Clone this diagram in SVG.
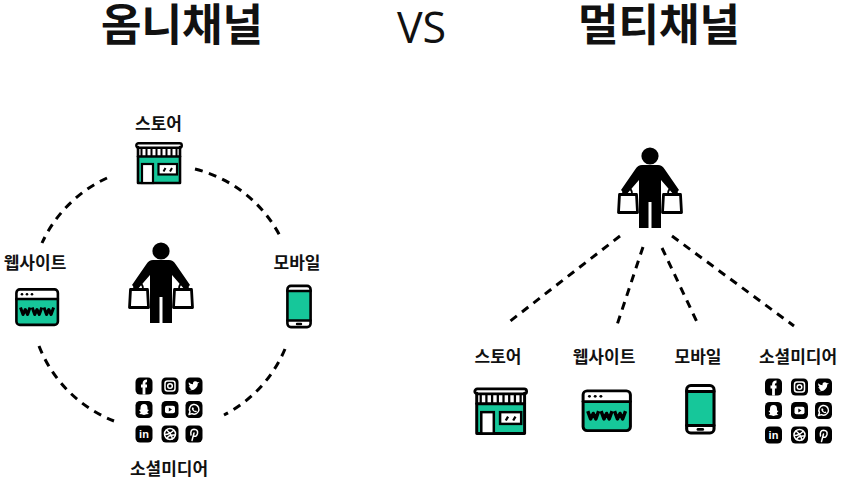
<svg xmlns="http://www.w3.org/2000/svg" width="842" height="483" viewBox="0 0 842 483">
<style>
.t{font-family:"Noto Sans CJK KR","Noto Sans",sans-serif;font-weight:700;fill:#111;text-anchor:middle}
.title{font-size:44px}
.lb{font-size:17px}
.vs{font-family:"Open Sans","Liberation Sans",sans-serif;font-size:43px;font-weight:500;fill:#111;text-anchor:middle}
.dash{fill:none;stroke:#000;stroke-width:3;stroke-dasharray:8 6.5}
.k{fill:none;stroke:#000;stroke-width:2.6;stroke-linejoin:round;stroke-linecap:round}
.s{fill:none;stroke:#000;stroke-width:2}
.g{fill:#16c79a}
.w{fill:#fff}
.ic{fill:#000}
.wl{fill:none;stroke:#fff;stroke-width:1.5;stroke-linecap:round;stroke-linejoin:round}
.wf{fill:#fff}
.in{font-family:"Liberation Sans",sans-serif;font-weight:700;font-size:11px;fill:#fff;text-anchor:middle}
</style>
<defs>
<symbol id="person" overflow="visible">
<circle cx="0" cy="0" r="8.6" fill="#000"/>
<path fill="#000" d="M-8,9 H8 Q12,9 14.500,13 L29,34 L24,39 L11,24 V72 H1.500 V46 H-1.500 V72 H-11 V24 L-24,39 L-29,34 L-14.500,13 Q-12,9 -8,9 Z"/>
<path fill="#fff" stroke="#000" stroke-width="2.800" stroke-linejoin="round" d="M-30.500,38.500 H-13.500 L-12.500,56.500 H-31.500 Z M13.500,38.500 H30.500 L31.500,56.500 H12.500 Z"/>
<path fill="none" stroke="#000" stroke-width="1.800" d="M-27,38 Q-27,32 -23,32 Q-18,32 -18,38 M18,38 Q18,32 23,32 Q27,32 27,38"/>
</symbol>
<symbol id="store" overflow="visible">
<rect x="3" y="5" width="42" height="36" class="g"/>
<path class="w" d="M3,5 H45 V13 Q45,15 43,15 H5 Q3,15 3,13 Z"/>
<path d="M6.500,6 V14 M11.500,6 V14 M16.500,6 V14 M21.500,6 V14 M26.500,6 V14 M31.500,6 V14 M36.500,6 V14 M41.500,6 V14" class="s"/>
<path d="M3,14.500 H45" class="k"/>
<rect x="1.300" y="1.300" width="45.500" height="4.400" rx="2.200" class="w" stroke="#000" stroke-width="2.400"/>
<path d="M3,5 V41 H45 V5" class="k"/>
<rect x="7" y="22" width="11" height="19" class="w" stroke="#000" stroke-width="2.200"/>
<rect x="23.500" y="22" width="18.500" height="10.500" class="w" stroke="#000" stroke-width="2.200"/>
<path d="M28.500,29.500 L30.500,26 M35,29.500 L37,26" class="s"/>
</symbol>
<symbol id="web" overflow="visible">
<rect x="1.400" y="1.400" width="41.500" height="35.500" rx="3.500" class="g"/>
<path class="w" d="M1.400,11 V5 Q1.400,1.400 5,1.400 H39 Q42.900,1.400 42.900,5 V11 Z"/>
<rect x="1.400" y="1.400" width="41.500" height="35.500" rx="3.500" class="k"/>
<path d="M1.400,11 H42.900" class="k"/>
<circle cx="7" cy="6.300" r="1.300"/><circle cx="12" cy="6.300" r="1.300"/><circle cx="17" cy="6.300" r="1.300"/>
<path d="M5.500,19.500 L8,26.500 L10.300,21.500 L12.600,26.500 L15,19.500 M17.200,19.500 L19.700,26.500 L22,21.500 L24.300,26.500 L26.800,19.500 M29,19.500 L31.500,26.500 L33.800,21.500 L36.100,26.500 L38.600,19.500" fill="none" stroke="#000" stroke-width="3" stroke-linejoin="round"/>
</symbol>
<symbol id="phone" overflow="visible">
<rect x="1.400" y="1.400" width="23.200" height="41.200" rx="3.500" class="w"/>
<rect x="1.400" y="6.500" width="23.200" height="29.500" class="g"/>
<rect x="1.400" y="1.400" width="23.200" height="41.200" rx="3.500" class="k"/>
<path d="M1.400,6.500 H24.600 M1.400,36 H24.600" class="k"/>
<path d="M11,39.500 H15" stroke="#000" stroke-width="2.400" stroke-linecap="round"/>
</symbol>
<symbol id="social" overflow="visible">
<g>
<rect x="0" y="0" width="17" height="17" rx="4.500" class="ic"/>
<path d="M11.500,3.400 Q8.500,3.200 8.500,6 V17 M5.500,8.500 H11.500" fill="none" stroke="#fff" stroke-width="2.800"/>
<rect x="26" y="0" width="17" height="17" rx="4.500" class="ic"/>
<rect x="29.500" y="3.500" width="10" height="10" rx="2.500" class="wl"/><circle cx="34.500" cy="8.500" r="2.300" class="wl"/>
<rect x="50" y="0" width="17" height="17" rx="4.500" class="ic"/>
<path class="wf" d="M53,12.500 Q58,13.800 60.500,10.500 Q62.500,8 62.300,6 L64,4.500 L62,4.800 Q60.500,3 58.500,4 Q57,5 57.500,6.800 Q55,6.700 53.300,4.800 Q52.500,7 54.500,8.700 L53.300,8.400 Q53.700,10.300 55.500,10.800 L54.500,11 Q55,12 56.300,12 Q55,12.800 53,12.500 Z"/>
</g>
<g transform="translate(0,23.500)">
<rect x="0" y="0" width="17" height="17" rx="4.500" class="ic"/>
<path class="wf" d="M8.500,3 Q12,3 12,7 V8.500 L13.500,9 Q12,10 11.800,11.500 Q13,12.500 13.500,13 Q11,13 8.500,14 Q6,13 3.500,13 Q4,12.500 5.200,11.500 Q5,10 3.500,9 L5,8.500 V7 Q5,3 8.500,3 Z"/>
<rect x="26" y="0" width="17" height="17" rx="4.500" class="ic"/>
<rect x="29.500" y="4.700" width="10" height="7.600" rx="2" class="wf"/><path d="M33.300,6.500 L36.500,8.500 L33.300,10.500 Z" fill="#000"/>
<rect x="50" y="0" width="17" height="17" rx="4.500" class="ic"/>
<path class="wl" d="M53.500,13.500 L54.500,10.700 A4.800,4.800 0 1 1 56.500,12.600 Z"/>
<path class="wf" d="M56.500,6.500 L57.800,6.500 L58.500,8 L58,8.800 L59.500,10 L60.500,9.500 L61.500,10.500 Q60,12 57.500,10 Q55.700,8 56.500,6.500 Z"/>
</g>
<g transform="translate(0,48)">
<rect x="0" y="0" width="17" height="17" rx="4.500" class="ic"/>
<text x="8.500" y="12.700" class="in">in</text>
<rect x="26" y="0" width="17" height="17" rx="4.500" class="ic"/>
<circle cx="34.500" cy="8.500" r="5.500" class="wl"/>
<path class="wl" d="M31,4.500 Q36,8.500 37,13.500 M29.500,9 Q34,9 38,5 M31.500,13 Q33,9 39.500,9.500"/>
<rect x="50" y="0" width="17" height="17" rx="4.500" class="ic"/>
<path class="wl" d="M56.500,15 L58.500,7.500 M55.500,9.500 Q54.500,4 58.500,3.800 Q62.800,4 62,8 Q61,11.800 58,10.500"/>
</g>
</symbol>
</defs>

<text class="t title" x="182" y="41">옴니채널</text>
<text class="vs" x="421.500" y="43">VS</text>
<text class="t title" x="659" y="41">멀티채널</text>

<g id="connectors">
<path class="dash" d="M107,178 A132,132 0 0 0 42,243"/>
<path class="dash" d="M195,169 A132,132 0 0 1 280,236"/>
<path class="dash" d="M285,349 A132,132 0 0 1 224,415"/>
<path class="dash" d="M39,346 A132,132 0 0 0 114,421"/>
<path class="dash" d="M620,236 L509,322"/>
<path class="dash" d="M643,247 L617,325"/>
<path class="dash" d="M662,248 L697,322"/>
<path class="dash" d="M672,236 L794,326"/>
</g>

<g id="omni-person"><use href="#person" x="161" y="251"/></g>
<g id="omni-store"><text class="t lb" x="158.500" y="130">스토어</text><use href="#store" x="135" y="142"/></g>
<g id="omni-web"><text class="t lb" x="35" y="269">웹사이트</text><use href="#web" x="15" y="288"/></g>
<g id="omni-mobile"><text class="t lb" x="297" y="269">모바일</text><use href="#phone" x="286" y="284.500"/></g>
<g id="omni-social"><use href="#social" x="135.500" y="377.500"/><text class="t lb" x="169" y="475">소셜미디어</text></g>

<g id="multi-person"><use href="#person" x="650" y="156"/></g>
<g id="multi-store"><text class="t lb" x="498" y="363">스토어</text><g transform="translate(473.300,387.500) scale(1.14,1.12)"><use href="#store"/></g></g>
<g id="multi-web"><text class="t lb" x="604" y="363">웹사이트</text><g transform="translate(581.500,389.300) scale(1.14,1.12)"><use href="#web"/></g></g>
<g id="multi-mobile"><text class="t lb" x="698" y="363">모바일</text><g transform="translate(685,384) scale(1.18,1.15)"><use href="#phone"/></g></g>
<g id="multi-social"><text class="t lb" x="798" y="363">소셜미디어</text><use href="#social" x="765" y="378.500"/></g>
</svg>
